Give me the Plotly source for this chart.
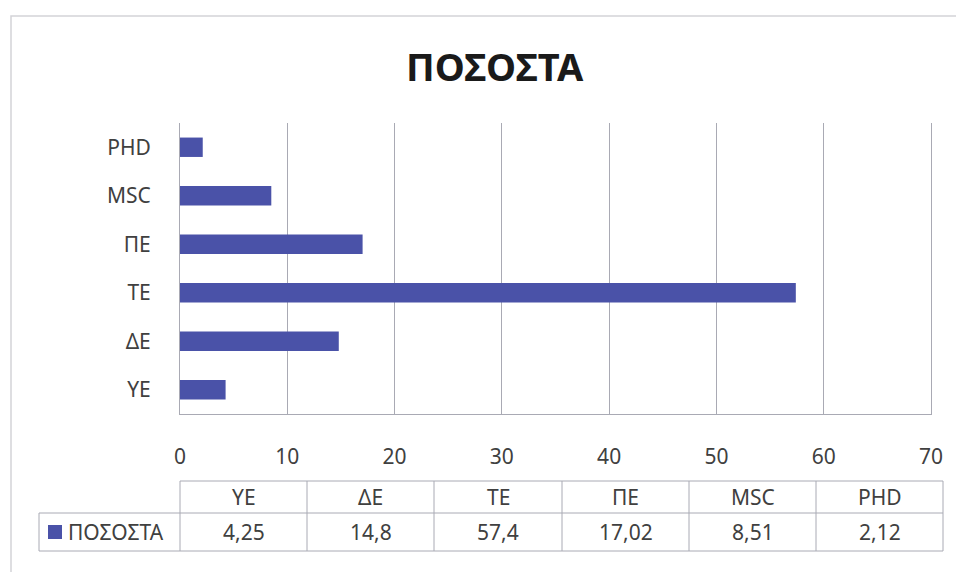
import plotly.graph_objects as go

# Data
categories = ["ΥΕ", "ΔΕ", "ΤΕ", "ΠΕ", "MSC", "PHD"]
values = [4.25, 14.8, 57.4, 17.02, 8.51, 2.12]
series_name = "ΠΟΣΟΣΤΑ"
x_ticks = [0, 10, 20, 30, 40, 50, 60, 70]

W, H = 956, 572
BAR = "#4a52a8"
GRID = "#a9aab4"
TEXT = "#404040"
FONT = "Noto Sans"


def px(x):
    return x / W


def py(y):
    return 1 - y / H


def fmt(v):
    # decimal comma, as in the Greek locale
    return f"{v:g}".replace(".", ",")


fig = go.Figure(
    go.Bar(
        x=values,
        y=categories,
        orientation="h",
        marker=dict(color=BAR, line=dict(width=0)),
        name=series_name,
    )
)

fig.update_layout(
    width=W,
    height=H,
    margin=dict(l=0, r=0, t=0, b=0, autoexpand=False),
    paper_bgcolor="white",
    plot_bgcolor="white",
    showlegend=False,
    bargap=0.6,
    font=dict(family=FONT, size=21, color=TEXT),
    xaxis=dict(
        domain=[px(180), px(931)],
        range=[0, 70],
        tickvals=x_ticks,
        showgrid=True,
        gridcolor=GRID,
        gridwidth=1,
        zeroline=False,
        showline=True,
        linecolor=GRID,
        linewidth=1,
        ticks="",
        ticklabelstandoff=24,
        automargin=False,
        fixedrange=True,
    ),
    yaxis=dict(
        domain=[py(414), py(123)],
        type="category",
        categoryorder="array",
        categoryarray=categories,
        showgrid=False,
        zeroline=False,
        showline=True,
        mirror=True,
        linecolor=GRID,
        linewidth=1,
        ticks="",
        ticklabelstandoff=24,
        automargin=False,
        fixedrange=True,
    ),
)

shapes = []
annotations = []

# outer chart frame
shapes.append(dict(type="rect", xref="paper", yref="paper",
                   x0=px(11), y0=py(600), x1=px(1000), y1=py(16),
                   line=dict(color="#d3d3d8", width=1.5), fillcolor="rgba(0,0,0,0)"))

# title
annotations.append(dict(text="<b>" + series_name + "</b>", xref="paper", yref="paper",
                        x=px(495), y=py(66), showarrow=False,
                        font=dict(family=FONT, size=38, color="#1a1a1a"),
                        xanchor="center", yanchor="middle"))

# data table below the axis
col_edges = [180, 307, 434, 562, 689, 816, 943]
top, mid, bot = 481, 513, 551
legend_left = 39
tl = dict(color=GRID, width=1)

# horizontal rules
shapes.append(dict(type="line", xref="paper", yref="paper",
                   x0=px(col_edges[0]), x1=px(col_edges[-1]), y0=py(top), y1=py(top), line=tl))
shapes.append(dict(type="line", xref="paper", yref="paper",
                   x0=px(legend_left), x1=px(col_edges[-1]), y0=py(mid), y1=py(mid), line=tl))
shapes.append(dict(type="line", xref="paper", yref="paper",
                   x0=px(legend_left), x1=px(col_edges[-1]), y0=py(bot), y1=py(bot), line=tl))
# vertical rules
shapes.append(dict(type="line", xref="paper", yref="paper",
                   x0=px(legend_left), x1=px(legend_left), y0=py(mid), y1=py(bot), line=tl))
for xe in col_edges:
    shapes.append(dict(type="line", xref="paper", yref="paper",
                       x0=px(xe), x1=px(xe), y0=py(top), y1=py(bot), line=tl))

# legend key in the row header
shapes.append(dict(type="rect", xref="paper", yref="paper",
                   x0=px(48), x1=px(62), y0=py(539), y1=py(525),
                   fillcolor=BAR, line=dict(width=0)))
annotations.append(dict(text=series_name, xref="paper", yref="paper",
                        x=px(66), y=py(532), showarrow=False,
                        xanchor="left", yanchor="middle",
                        font=dict(family=FONT, size=21, color=TEXT)))

for i, (cat, val) in enumerate(zip(categories, values)):
    cx = (col_edges[i] + col_edges[i + 1]) / 2
    annotations.append(dict(text=cat, xref="paper", yref="paper",
                            x=px(cx), y=py((top + mid) / 2), showarrow=False,
                            xanchor="center", yanchor="middle",
                            font=dict(family=FONT, size=21, color=TEXT)))
    annotations.append(dict(text=fmt(val), xref="paper", yref="paper",
                            x=px(cx), y=py((mid + bot) / 2), showarrow=False,
                            xanchor="center", yanchor="middle",
                            font=dict(family=FONT, size=21, color=TEXT)))

fig.update_layout(shapes=shapes, annotations=annotations)

fig.write_html("out.html")
